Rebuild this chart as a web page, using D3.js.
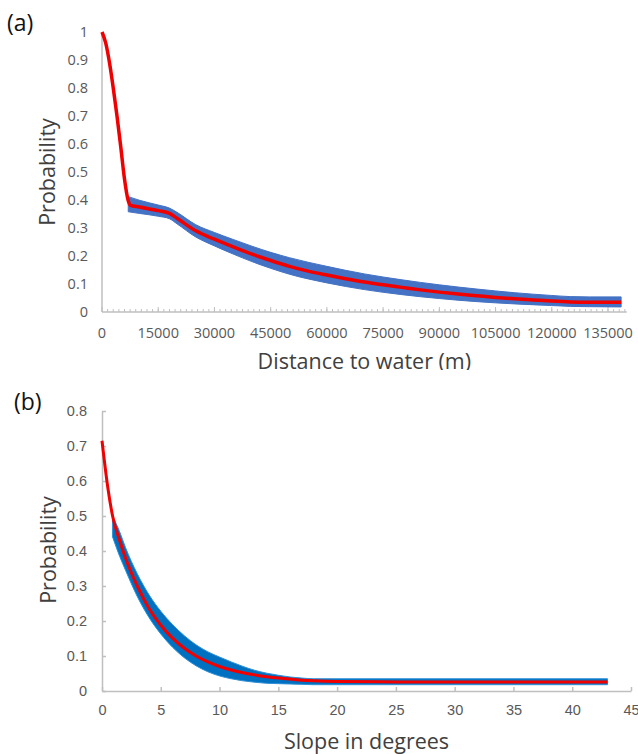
<!DOCTYPE html>
<html>
<head>
<meta charset="utf-8">
<script src="https://cdn.jsdelivr.net/npm/d3@7"></script>
<style>
  body { margin: 0; background: #fff; }
  svg { display: block; font-family: "Open Sans", sans-serif; }
  .tick-lbl { fill: #595959; font-size: 14.5px; }
  .ax-title { fill: #404040; font-size: 21.5px; }
  .panel-lbl { fill: #111; font-size: 23px; }
</style>
</head>
<body>
<div id="chart"></div>
<script>
// ---- panel (a): distance to water ----
let distX    = [0, 1000, 2000, 3000, 4000, 5000, 6000, 7000, 7500, 10000, 15000, 18000, 20000, 25000, 30000, 35000, 40000, 45000, 50000, 55000, 60000, 65000, 70000, 75000, 80000, 85000, 90000, 95000, 100000, 105000, 110000, 115000, 120000, 125000, 130000, 138500];
let distMean = [1.0, 0.96, 0.89, 0.80, 0.70, 0.59, 0.475, 0.397, 0.382, 0.375, 0.362, 0.352, 0.335, 0.29, 0.26, 0.233, 0.207, 0.184, 0.163, 0.146, 0.132, 0.119, 0.107, 0.097, 0.088, 0.079, 0.071, 0.064, 0.058, 0.052, 0.047, 0.043, 0.039, 0.036, 0.035, 0.035];
let distBandX = [7000, 10000, 15000, 18000, 20000, 25000, 30000, 35000, 40000, 45000, 50000, 60000, 70000, 80000, 90000, 100000, 110000, 120000, 125000, 130000, 138500];
let distLow   = [0.358, 0.352, 0.342, 0.333, 0.315, 0.268, 0.236, 0.207, 0.18, 0.156, 0.135, 0.104, 0.08, 0.062, 0.048, 0.037, 0.029, 0.023, 0.02, 0.019, 0.018];
let distHigh  = [0.412, 0.399, 0.382, 0.371, 0.356, 0.312, 0.284, 0.259, 0.235, 0.213, 0.194, 0.163, 0.136, 0.115, 0.097, 0.082, 0.069, 0.059, 0.055, 0.054, 0.054];
let distTicks = [0, 15000, 30000, 45000, 60000, 75000, 90000, 105000, 120000, 135000];
let probTicksA = [0, 0.1, 0.2, 0.3, 0.4, 0.5, 0.6, 0.7, 0.8, 0.9, 1];

// ---- panel (b): slope ----
let slopeX    = [0, 0.5, 0.9, 1.5, 2, 3, 4, 5, 6, 7, 8, 9, 10, 11, 12, 13, 14, 15, 16, 17, 18, 20, 25, 30, 35, 40, 43];
let slopeMean = [0.715, 0.58, 0.50, 0.43, 0.38, 0.30, 0.236, 0.188, 0.151, 0.122, 0.10, 0.083, 0.07, 0.06, 0.052, 0.046, 0.041, 0.037, 0.034, 0.031, 0.029, 0.027, 0.026, 0.026, 0.026, 0.026, 0.026];
let slopeBandX = [0.9, 1.5, 2, 3, 4, 5, 6, 7, 8, 9, 10, 11, 12, 13, 14, 15, 16, 17, 18, 20, 43];
let slopeLow   = [0.44, 0.385, 0.345, 0.27, 0.21, 0.163, 0.125, 0.095, 0.072, 0.055, 0.043, 0.035, 0.029, 0.025, 0.022, 0.021, 0.02, 0.019, 0.018, 0.018, 0.018];
let slopeHigh  = [0.50, 0.455, 0.41, 0.335, 0.275, 0.228, 0.19, 0.158, 0.132, 0.112, 0.097, 0.083, 0.07, 0.059, 0.051, 0.045, 0.04, 0.037, 0.035, 0.035, 0.035];
let slopeTicks = [0, 5, 10, 15, 20, 25, 30, 35, 40, 45];
let probTicksB = [0, 0.1, 0.2, 0.3, 0.4, 0.5, 0.6, 0.7, 0.8];

let svg = d3.select('#chart').append('svg')
    .attr('width', 638)
    .attr('height', 754);

let axisColor = '#bfbfbf';

// ================= panel (a) =================
let xa = d3.scaleLinear().domain([0, 135000]).range([102, 608]);
let ya = d3.scaleLinear().domain([0, 1]).range([312, 32]);

let ga = svg.append('g').attr('id', 'panel_a');

// axis lines
ga.append('line').attr('x1', xa(0)).attr('x2', xa(0)).attr('y1', ya(1)).attr('y2', ya(0))
    .attr('stroke', axisColor).attr('stroke-width', 1.5);
ga.append('line').attr('x1', xa(0)).attr('x2', xa(140000)).attr('y1', ya(0)).attr('y2', ya(0))
    .attr('stroke', axisColor).attr('stroke-width', 1.5);

// minor + major ticks on x (pointing up)
ga.selectAll('.minor').data(d3.range(1500, 140001, 1500)).enter().append('line')
    .attr('class', 'minor')
    .attr('x1', (d) => xa(d)).attr('x2', (d) => xa(d))
    .attr('y1', ya(0)).attr('y2', ya(0) - 3)
    .attr('stroke', axisColor).attr('stroke-width', 1);
ga.selectAll('.major').data(distTicks).enter().append('line')
    .attr('class', 'major')
    .attr('x1', (d) => xa(d)).attr('x2', (d) => xa(d))
    .attr('y1', ya(0)).attr('y2', ya(0) - 5)
    .attr('stroke', axisColor).attr('stroke-width', 1);

ga.selectAll('.xlbl').data(distTicks).enter().append('text')
    .attr('class', 'tick-lbl')
    .attr('x', (d) => xa(d)).attr('y', 338)
    .attr('text-anchor', 'middle')
    .text((d) => d);
ga.selectAll('.ylbl').data(probTicksA).enter().append('text')
    .attr('class', 'tick-lbl')
    .attr('x', 88).attr('y', (d) => ya(d) + 5)
    .attr('text-anchor', 'end')
    .text((d) => d3.format('~g')(d));

// blue band
let areaA = d3.area()
    .x((d, i) => xa(distBandX[i]))
    .y0((d, i) => ya(distLow[i]))
    .y1((d, i) => ya(distHigh[i]))
    .curve(d3.curveMonotoneX);
ga.append('path').datum(distBandX).attr('d', areaA)
    .attr('fill', '#4472c4').attr('stroke', '#4472c4').attr('stroke-width', 1);

let lineA = d3.line()
    .x((d, i) => xa(distX[i]))
    .y((d, i) => ya(distMean[i]))
    .curve(d3.curveMonotoneX);
ga.append('path').datum(distX).attr('d', lineA)
    .attr('fill', 'none').attr('stroke', '#f00000').attr('stroke-width', 3.5)
    .attr('stroke-linejoin', 'round');

// titles
svg.append('clipPath').attr('id', 'cutA')
    .append('rect').attr('x', 0).attr('y', 340).attr('width', 638).attr('height', 30);
ga.append('text').attr('class', 'ax-title')
    .attr('clip-path', 'url(#cutA)')
    .attr('x', (xa(0) + xa(140000)) / 2).attr('y', 369)
    .attr('text-anchor', 'middle')
    .text('Distance to water (m)');
ga.append('text').attr('class', 'ax-title')
    .attr('transform', translate(55, 172) + ' rotate(-90)')
    .attr('text-anchor', 'middle')
    .text('Probability');
ga.append('text').attr('class', 'panel-lbl')
    .attr('x', 7).attr('y', 31)
    .text('(a)');

// ================= panel (b) =================
let xb = d3.scaleLinear().domain([0, 45]).range([102, 631]);
let yb = d3.scaleLinear().domain([0, 0.8]).range([691, 411]);

let gb = svg.append('g').attr('id', 'panel_b');

gb.append('g')
    .attr('transform', translate(0, yb(0)))
    .call(d3.axisBottom(xb).tickValues(slopeTicks).tickSizeInner(-4).tickSizeOuter(0).tickPadding(14))
    .call((g) => {
        g.selectAll('line, path').attr('stroke', axisColor).attr('stroke-width', 1.5);
        g.selectAll('text').attr('class', 'tick-lbl').attr('font-family', null).attr('font-size', null).attr('fill', null);
    });
gb.append('g')
    .attr('transform', translate(xb(0), 0))
    .call(d3.axisLeft(yb).tickValues(probTicksB).tickSizeInner(-4).tickSizeOuter(0).tickPadding(15)
        .tickFormat(d3.format('~g')))
    .call((g) => {
        g.selectAll('line, path').attr('stroke', axisColor).attr('stroke-width', 1.5);
        g.selectAll('text').attr('class', 'tick-lbl').attr('font-family', null).attr('font-size', null).attr('fill', null);
    });

let areaB = d3.area()
    .x((d, i) => xb(slopeBandX[i]))
    .y0((d, i) => yb(slopeLow[i]))
    .y1((d, i) => yb(slopeHigh[i]))
    .curve(d3.curveMonotoneX);
gb.append('path').datum(slopeBandX).attr('d', areaB)
    .attr('fill', '#0070c0').attr('stroke', '#2f8fd6').attr('stroke-width', 1);

let lineB = d3.line()
    .x((d, i) => xb(slopeX[i]))
    .y((d, i) => yb(slopeMean[i]))
    .curve(d3.curveMonotoneX);
gb.append('path').datum(slopeX).attr('d', lineB)
    .attr('fill', 'none').attr('stroke', '#f00000').attr('stroke-width', 3)
    .attr('stroke-linejoin', 'round');

gb.append('text').attr('class', 'ax-title')
    .attr('x', (xb(0) + xb(45)) / 2).attr('y', 749)
    .attr('text-anchor', 'middle')
    .text('Slope in degrees');
gb.append('text').attr('class', 'ax-title')
    .attr('transform', translate(56, 550) + ' rotate(-90)')
    .attr('text-anchor', 'middle')
    .text('Probability');
gb.append('text').attr('class', 'panel-lbl')
    .attr('x', 14).attr('y', 410)
    .text('(b)');

// helper method to make translating easier
function translate(x, y) {
    return 'translate(' + x + ',' + y + ')';
}
</script>
</body>
</html>
